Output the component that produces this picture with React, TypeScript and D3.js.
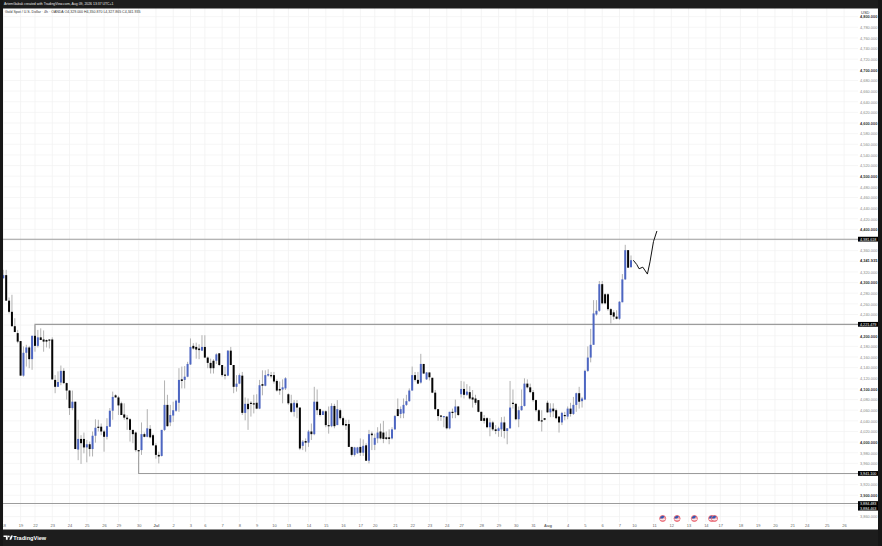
import React, { useRef, useEffect } from "react";
import * as d3 from "d3";

const width = 882;
const height = 546;

const opens = [4308,4314,4266,4245,4218,4205,4190,4125,4168,4178,4156,4200,4181,4197,4193,4192,4193,4193,4117,4104,4112,4134,4111,4097,4064,4076,3986,4006,4006,3990,3996,3987,4012,4029,4029,4020,4010,4029,4059,4088,4084,4073,4052,4046,4043,4023,4018,3985,
  3985,4015,4010,4025,4013,3994,3976,3974,4023,4070,4037,4050,4059,4074,4118,4117,4123,4146,4181,4179,4176,4172,4179,4159,4149,4153,4153,4167,4145,4127,4125,4172,4145,4104,4110,4125,4055,4072,4074,4073,4074,4063,4109,4106,4125,4126,4126,4115,4100,4099,4101,4090,4073,4057,4073,4065,
  3993,4002,3999,4020,4015,4076,4062,4051,4058,4032,4030,4068,4032,4060,4045,4034,4034,3991,3976,3979,3991,3980,3994,3965,4016,3995,4007,4020,4018,4009,4009,4007,4024,4062,4053,4054,4070,4077,4097,4126,4117,4112,4147,4118,4131,4121,4093,4062,4050,4047,4048,4026,
  4057,4056,4067,4090,4100,4089,4094,4084,4082,4079,4057,4045,4045,4028,4037,4024,4021,4024,4037,4021,4026,4074,4072,4043,4060,4068,4110,4103,4094,4079,4060,4041,4045,4074,4056,4063,4060,4048,4037,4051,4048,4063,4053,4070,4092,4077,4080,
  4134,4159,4183,4240,4247,4297,4278,4278,4250,4244,4236,4232,4263,4306,4361,4329];
const highs = [4324,4324,4272,4277,4233,4211,4190,4180,4183,4181,4200,4220,4211,4214,4210,4193,4193,4197,4126,4133,4144,4139,4112,4098,4097,4076,4042,4013,4018,4004,4001,4020,4043,4042,4035,4023,4045,4064,4095,4090,4087,4076,4073,4051,4045,4023,4020,3985,
  4037,4018,4062,4032,4016,3998,3982,4023,4116,4089,4070,4076,4080,4139,4142,4143,4151,4195,4186,4187,4184,4201,4201,4161,4157,4156,4167,4167,4145,4142,4173,4179,4145,4126,4129,4132,4084,4082,4077,4089,4090,4117,4135,4135,4137,4132,4132,4118,4114,4118,4122,4092,4089,4079,4079,4065,
  4004,4007,4023,4035,4104,4099,4063,4060,4060,4067,4073,4072,4079,4063,4048,4042,4042,3991,3991,3991,4007,4005,3998,4023,4020,4016,4028,4035,4040,4020,4024,4028,4051,4082,4067,4082,4089,4101,4142,4132,4132,4166,4147,4132,4131,4121,4098,4062,4051,4049,4049,4057,
  4063,4080,4068,4115,4114,4109,4105,4098,4089,4079,4057,4051,4047,4045,4040,4032,4029,4047,4048,4026,4115,4099,4073,4067,4099,4120,4118,4110,4098,4080,4062,4060,4045,4078,4073,4073,4063,4049,4057,4057,4067,4074,4085,4093,4104,4085,4136,
  4180,4213,4267,4267,4303,4303,4280,4280,4252,4248,4248,4265,4316,4371,4361,4351];
const lows = [4308,4266,4242,4217,4207,4186,4125,4123,4142,4139,4136,4170,4178,4192,4170,4178,4176,4117,4092,4104,4107,4109,4080,4051,4060,3987,3966,3959,3979,3962,3973,3973,3999,4020,4013,3982,4005,4029,4042,4084,4051,4051,4042,4023,4001,3998,3982,3973,
  3976,4009,4009,4007,3993,3969,3960,3973,4021,4029,4030,4038,4057,4057,4101,4101,4122,4145,4174,4157,4156,4172,4158,4139,4129,4129,4147,4143,4123,4118,4124,4145,4092,4095,4109,4051,4041,4023,4048,4054,4062,4062,4088,4105,4123,4120,4110,4095,4089,4073,4098,4070,4055,4048,4045,3985,
  3985,3982,3991,4004,4013,4051,4048,4051,4028,4016,4028,4026,4032,4042,4030,4023,3991,3973,3973,3978,3974,3974,3965,3960,3985,3985,3998,4005,3998,4004,3996,4005,4023,4049,4045,4045,4068,4076,4097,4114,4109,4110,4128,4117,4116,4092,4060,4040,4040,4028,4024,4024,
  4045,4045,4049,4084,4082,4087,4080,4065,4070,4056,4040,4035,4026,4011,4021,4015,4010,4010,4007,3996,4025,4063,4041,4028,4059,4067,4101,4092,4076,4057,4038,4020,4041,4055,4047,4047,4043,4018,4032,4041,4043,4048,4051,4057,4063,4065,4079,
  4132,4150,4183,4238,4245,4259,4259,4247,4223,4230,4231,4230,4263,4305,4328,4328];
const closes = [4314,4266,4245,4218,4207,4189,4125,4168,4178,4156,4200,4181,4197,4192,4189,4189,4192,4118,4104,4113,4134,4111,4097,4064,4076,3987,4006,3998,3990,3996,3987,4012,4027,4027,4020,4010,4030,4059,4085,4084,4069,4051,4046,4043,4023,4015,3985,3983,
  4015,4010,4026,4009,3994,3976,3973,4023,4070,4030,4051,4060,4078,4117,4115,4123,4147,4179,4176,4174,4173,4179,4159,4149,4139,4139,4165,4145,4126,4125,4172,4145,4104,4110,4126,4055,4072,4062,4072,4072,4063,4107,4106,4126,4128,4125,4114,4097,4097,4103,4120,4073,4057,4074,4065,3988,
  4001,3999,4020,4015,4076,4060,4051,4058,4032,4030,4068,4030,4062,4045,4032,4031,3991,3976,3990,3990,3980,3993,3965,4015,4013,4008,4018,4007,4006,4006,4006,4024,4049,4049,4062,4070,4077,4097,4126,4117,4110,4147,4129,4131,4122,4093,4062,4049,4048,4049,4026,4057,
  4055,4067,4051,4100,4089,4095,4082,4080,4074,4057,4040,4040,4028,4037,4024,4021,4026,4037,4021,4026,4065,4072,4043,4060,4068,4110,4103,4094,4079,4060,4040,4040,4042,4056,4063,4058,4045,4037,4055,4049,4063,4053,4070,4092,4076,4082,4134,
  4159,4183,4242,4247,4297,4261,4261,4250,4239,4236,4232,4264,4306,4361,4328,4342];

const priceTicks = d3.range(3860, 4801, 20);
// axis labels that sit behind the level and last-price tags
const coveredTicks = [4380, 4340, 4220, 3940, 3880];
const tickBars = [0,6,11,17,23,29,35,40,47,53,59,65,70,76,82,88,94,99,106,112,118,124,129,136,142,148,154,159,166,172,178,184,189,196,202,208,214,219,226,232,238,244,249,256,262,268,274,279,286,292];
const tickLabels = ["18","19","22","23","24","25","26","29","30","Jul","2","3","6","7","8","9","10","13","14","15","16","17","20","21","22","23","24","27","28","29","30","31","Aug","4","5","6","7","10","11","12","13","14","17","18","19","20","21","24","25","26"];

const levelPrices = [4381.618, 4221.479, 3941.1, 3884.483];
const levelStartBars = [-2, 11, 47, -2];
const levelAnchors = [4381.618, 4200, 3985, 3884.483];
const currentPrice = 4341.935;

const sketchBars = [218.8, 220, 220.8, 222.1, 223.7, 224.6, 225.8, 227];
const sketchPrices = [4342, 4334, 4326, 4329, 4316, 4339, 4377, 4397];

const eventBars = [229, 234, 240, 246, 247];

const fontFamily = "'Liberation Sans', Arial, sans-serif";
const priceFormat = d3.format(",.3f");

export default function App() {
  const ref = useRef<SVGSVGElement | null>(null);

  useEffect(() => {
    const svg = d3.select(ref.current);
    svg.selectAll("*").remove();

    const x = d3.scaleLinear().domain([0, 218]).range([3.3, 631]);
    const y = d3.scaleLinear().domain([3900, 4400]).range([495.3, 229.4]);
    const plotRight = 858;

    svg.append("rect").attr("width", width).attr("height", height).attr("fill", "#fff");

    // grid
    svg.append("g").selectAll("line").data(priceTicks).enter().append("line")
      .attr("x1", 3).attr("x2", plotRight)
      .attr("y1", (d) => y(d)).attr("y2", (d) => y(d))
      .attr("stroke", "#f4f4f4").attr("stroke-width", 0.8);
    svg.append("g").selectAll("line").data(tickBars).enter().append("line")
      .attr("x1", (d) => x(d)).attr("x2", (d) => x(d))
      .attr("y1", 8).attr("y2", 522)
      .attr("stroke", "#f1f1f1").attr("stroke-width", 0.8);

    // level lines
    levelPrices.forEach((p, i) => {
      const path = d3.path();
      path.moveTo(x(levelStartBars[i]), y(levelAnchors[i]));
      path.lineTo(x(levelStartBars[i]), y(p));
      path.lineTo(plotRight, y(p));
      svg.append("path").attr("d", path.toString()).attr("fill", "none")
        .attr("stroke", "#9c9c9c").attr("stroke-width", 1.1);
    });

    // candles
    const bars = d3.range(closes.length);
    svg.append("g").selectAll("line").data(bars).enter().append("line")
      .attr("x1", (i) => x(i)).attr("x2", (i) => x(i))
      .attr("y1", (i) => y(highs[i])).attr("y2", (i) => y(lows[i]))
      .attr("stroke", "#a9a9a9").attr("stroke-width", 0.9);
    svg.append("g").selectAll("rect").data(bars).enter().append("rect")
      .attr("x", (i) => x(i) - 1)
      .attr("width", 2)
      .attr("y", (i) => y(Math.max(opens[i], closes[i])))
      .attr("height", (i) => Math.max(1.2, Math.abs(y(opens[i]) - y(closes[i]))))
      .attr("fill", (i) => (closes[i] >= opens[i] ? "#4d66c2" : "#050505"));

    // hand drawn path
    const line = d3.line<number>()
      .x((b) => x(b))
      .y((_, i) => y(sketchPrices[i]))
      .curve(d3.curveLinear);
    svg.append("path").attr("d", line(sketchBars)).attr("fill", "none")
      .attr("stroke", "#111").attr("stroke-width", 1).attr("stroke-linejoin", "round");

    // event markers
    const flags = svg.append("g").selectAll("g").data(eventBars).enter().append("g")
      .attr("transform", (d) => `translate(${x(d)},518.5)`);
    flags.append("circle").attr("r", 3).attr("fill", "#f2a9b0").attr("stroke", "#e5525f").attr("stroke-width", 0.8);
    flags.append("rect").attr("x", -2.6).attr("y", 0.3).attr("width", 5.2).attr("height", 0.9).attr("fill", "#fff");
    flags.append("path")
      .attr("d", d3.arc()({ innerRadius: 0, outerRadius: 2.6, startAngle: -Math.PI / 2, endAngle: Math.PI * 0.25 }) as string)
      .attr("fill", "#3558b0");

    // price axis
    const labelTicks = priceTicks.filter((d) => !coveredTicks.includes(d));
    const yAxis = svg.append("g")
      .attr("transform", `translate(860,0)`)
      .call(d3.axisRight(y).tickValues(labelTicks).tickFormat((d) => priceFormat(d as number)).tickSize(0).tickPadding(0));
    yAxis.select(".domain").remove();
    yAxis.selectAll<SVGTextElement, number>("text")
      .attr("font-family", fontFamily)
      .attr("font-size", 3.9)
      .attr("font-weight", (d) => (d % 100 === 0 ? "bold" : "normal"))
      .attr("fill", (d) => (d % 100 === 0 ? "#333" : "#888"));

    // time axis
    const xAxis = svg.append("g")
      .attr("transform", `translate(0,524)`)
      .call(d3.axisBottom(x).tickValues(tickBars).tickFormat((_, i) => tickLabels[i]).tickSize(0).tickPadding(0));
    xAxis.select(".domain").remove();
    xAxis.selectAll<SVGTextElement, number>("text")
      .attr("font-family", fontFamily)
      .attr("font-size", 4)
      .attr("font-weight", (_, i) => (tickLabels[i] === "Jul" || tickLabels[i] === "Aug" ? "bold" : "normal"))
      .attr("fill", "#666");

    // price labels
    const labelRows = [
      { text: priceFormat(levelPrices[0]), at: y(levelPrices[0]) },
      { text: priceFormat(levelPrices[1]), at: y(levelPrices[1]) },
      { text: priceFormat(levelPrices[2]), at: y(levelPrices[2]) },
      { text: priceFormat(levelPrices[3]), at: y(levelPrices[3]) },
      { text: "3,884.463", at: y(levelPrices[3]) + 4.6 },
    ];
    const boxes = svg.append("g").selectAll("g").data(labelRows).enter().append("g")
      .attr("transform", (d) => `translate(858,${d.at})`);
    boxes.append("rect").attr("y", -2.4).attr("width", 20).attr("height", 4.8).attr("fill", "#000");
    boxes.append("text").attr("x", 2).attr("y", 1.4)
      .attr("font-family", fontFamily).attr("font-size", 3.7).attr("fill", "#fff").text((d) => d.text);

    svg.append("text").attr("x", 860).attr("y", y(currentPrice) + 1.4)
      .attr("font-family", fontFamily).attr("font-size", 3.9).attr("font-weight", "bold").attr("fill", "#222")
      .text(priceFormat(currentPrice));
    svg.append("text").attr("x", 861).attr("y", 13.6)
      .attr("font-family", fontFamily).attr("font-size", 4).attr("fill", "#333").text("USD");

    // frame
    svg.append("rect").attr("width", width).attr("height", 8.5).attr("fill", "#1d1d1d");
    svg.append("rect").attr("y", 529.5).attr("width", width).attr("height", 16.5).attr("fill", "#1d1d1d");
    svg.append("rect").attr("width", 3).attr("height", height).attr("fill", "#161616");
    svg.append("rect").attr("x", 878).attr("width", 4).attr("height", height).attr("fill", "#161616");

    svg.append("text").attr("x", 4).attr("y", 5.4)
      .attr("font-family", fontFamily).attr("font-size", 3.45).attr("fill", "#e8e8e8")
      .text("ArtemGabak created with TradingView.com, Aug 09, 2026 13:37 UTC+1");
    svg.append("text").attr("x", 5).attr("y", 13)
      .attr("font-family", fontFamily).attr("font-size", 3.55).attr("fill", "#333")
      .text("Gold Spot / U.S. Dollar · 4h · OANDA  O4,329.000 H4,350.870 L4,327.865 C4,341.935");

    // logo
    const logo = svg.append("g").attr("transform", "translate(3.5,535.5)").attr("fill", "#fff");
    logo.append("path").attr("d", "M0 0H4.2V4.2H2.4V1.6H0Z");
    logo.append("circle").attr("cx", 5.3).attr("cy", 0.9).attr("r", 0.9);
    logo.append("path").attr("d", "M5.8 4.2L7.5 0H9.4L7.7 4.2Z");
    svg.append("text").attr("x", 13.3).attr("y", 540)
      .attr("font-family", fontFamily).attr("font-size", 5.6).attr("font-weight", "bold").attr("fill", "#fff")
      .text("TradingView");
  }, []);

  return (
    <svg
      ref={ref}
      width={width}
      height={height}
      style={{ position: "absolute", left: 0, top: 0, display: "block" }}
    />
  );
}
